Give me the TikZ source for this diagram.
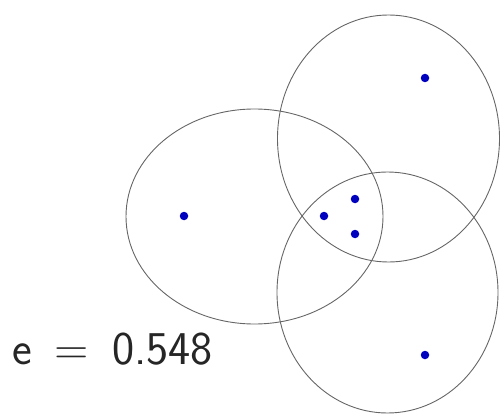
\documentclass[tikz,border=0pt]{standalone}
\usepackage{fontspec}
\begin{document}
\begin{tikzpicture}[x=1pt,y=-1pt,
  ell/.style={draw=black!60,line width=0.9pt},
  pt/.style={circle,fill=blue!75!black,inner sep=0pt,minimum size=8.5pt}]
\useasboundingbox (0,0) rectangle (500,414);
\draw[ell] (254.5,216.5) ellipse [x radius=128.5, y radius=107.5];
\draw[ell] (388.5,138.5) ellipse [x radius=111, y radius=123.5];
\draw[ell] (387.5,292.5) ellipse [x radius=110.5, y radius=120.5];
\node[pt] (a) at (184,216) {};
\node[pt] (b) at (425,78) {};
\node[pt] (c) at (425,355) {};
\node[pt] (d) at (324,216) {};
\node[pt] (e) at (355,199) {};
\node[pt] (f) at (355,234) {};
\node[anchor=base west,inner sep=0pt,font=\fontsize{47}{52}\sffamily,text=black!85] (lbl) at (12,364.5) {e\hspace{23pt}=\hspace{23pt}0.548};
\end{tikzpicture}
\end{document}
